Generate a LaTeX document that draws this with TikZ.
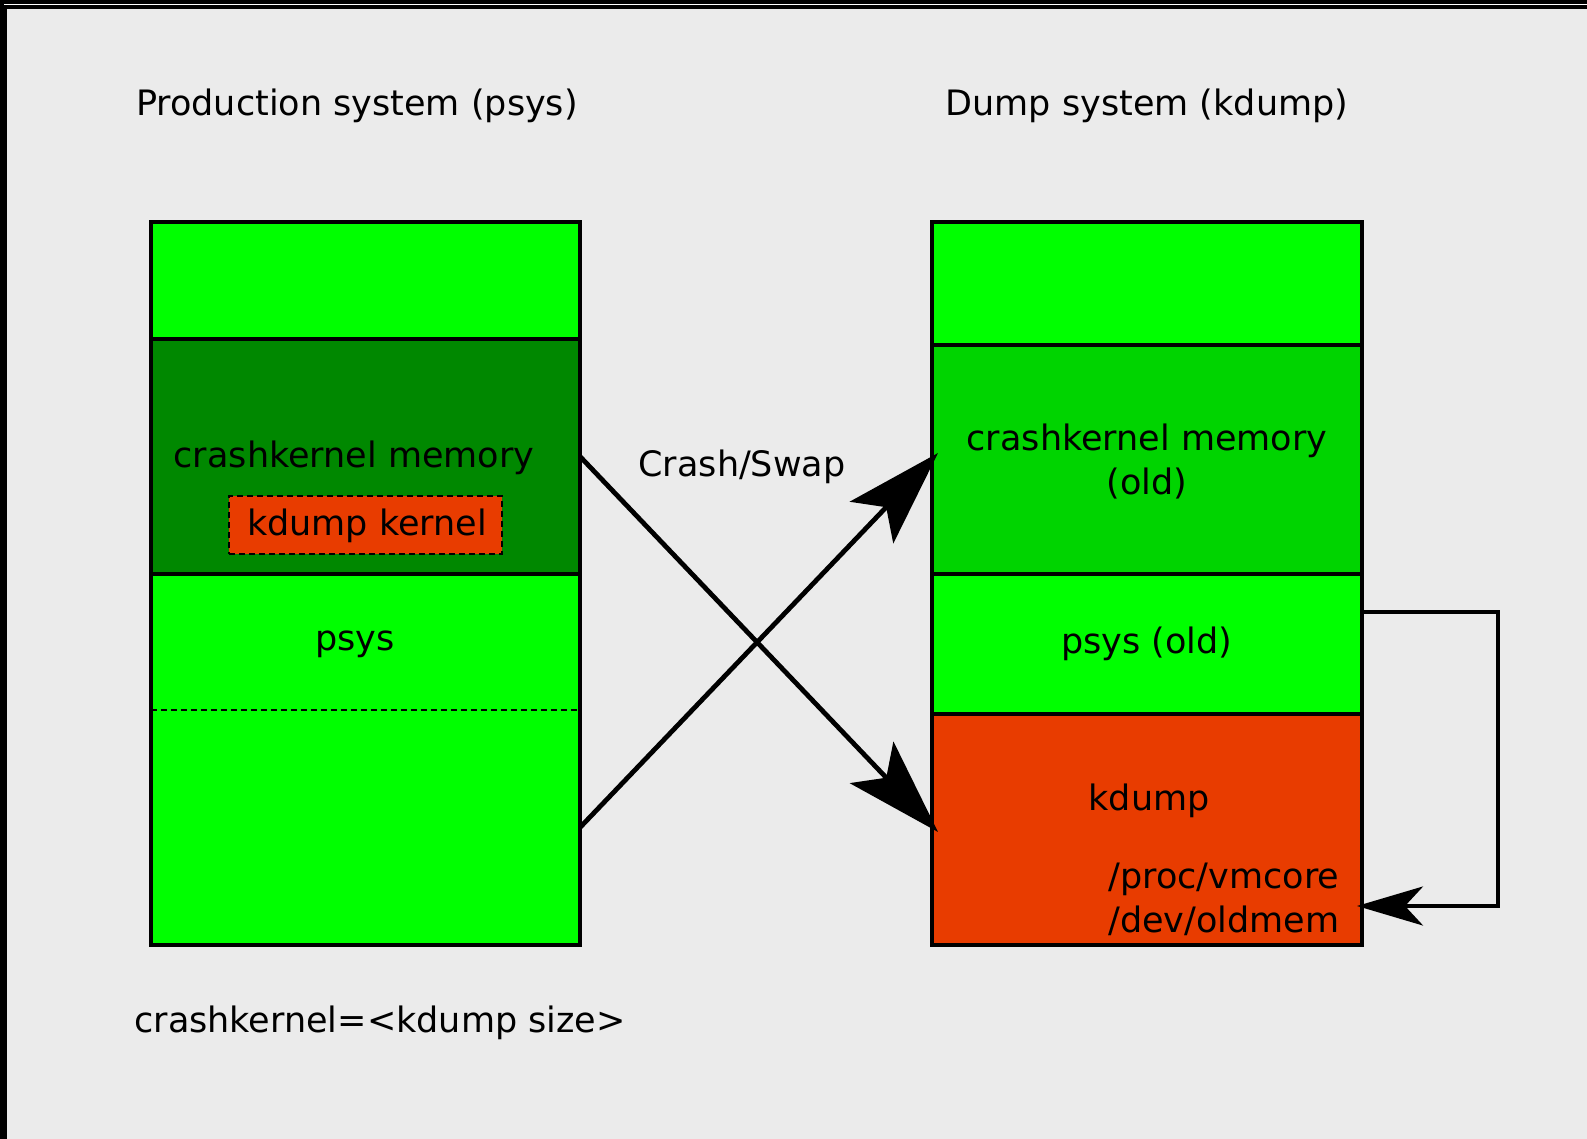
\documentclass[tikz,border=0pt]{standalone}
\usepackage{fontspec}
\setmainfont{DejaVu Sans}
\usetikzlibrary{arrows.meta}
\definecolor{bggray}{HTML}{EBEBEB}
\definecolor{brightgreen}{HTML}{00FF00}
\definecolor{darkgreen}{HTML}{008800}
\definecolor{midgreen}{HTML}{00D400}
\definecolor{kred}{HTML}{E83C00}
\tikzset{
  sect/.style={rectangle, draw=black, line width=2pt, inner sep=0pt, outer sep=0pt, anchor=north west, minimum width=#1},
  sect/.default=214.5pt,
  plain/.style={rectangle, inner sep=0pt, outer sep=0pt, anchor=north west, minimum width=214.5pt},
  lbl/.style={font=\fontsize{17.5}{22}\selectfont, inner sep=0pt, text=black},
  bigarrow/.style={line width=2.4pt, -{Stealth[length=48pt,width=30pt,inset=10.5pt]}},
  smallarrow/.style={line width=1.8pt, -{Stealth[length=33pt,width=19.5pt,inset=9pt]}},
  thindash/.style={line width=0.9pt, dash pattern=on 3pt off 2pt}
}
\begin{document}
\begin{tikzpicture}[x=0.5pt,y=-0.5pt]
\useasboundingbox (0,0) rectangle (1587,1139);
% page background
\fill[black] (0,0) rectangle (1587,1139);
\draw[white, line width=0.5pt] (4,4.5) -- (1587,4.5);
\fill[bggray] (7,9) rectangle (1587,1139);

% titles
\node[lbl] (ttlL) at (357,106) {Production system (psys)};
\node[lbl] (ttlR) at (1147,106) {Dump system (kdump)};

% left column
\node[sect, fill=brightgreen, minimum height=58.5pt] (ltop) at (151,222) {};
\node[sect, fill=darkgreen, minimum height=117.5pt] (lcrash) at (151,339) {};
\node[plain, fill=brightgreen, minimum height=68pt] (lpsys) at (151,574) {};
\node[plain, fill=brightgreen, minimum height=117.5pt] (llow) at (151,710) {};
\draw[line width=2pt] (lpsys.north west) rectangle (llow.south east);
\draw[thindash] (llow.north west) -- ([xshift=1pt]llow.north east);

\node[lbl] (lcrashtxt) at (354,458) {crashkernel memory};
\node[rectangle, draw=black, thindash, fill=kred, minimum width=136.5pt, minimum height=29pt, inner sep=0pt] (kkern) at (365.5,525) {};
\node[lbl] (kkerntxt) at (367,526) {kdump kernel};
\node[lbl] (lpsystxt) at (355,644) {psys};
\node[lbl] (cksize) at (380,1023) {crashkernel=<kdump size>};

% right column
\node[sect=215pt, fill=brightgreen, minimum height=61.5pt] (rtop) at (932,222) {};
\node[sect=215pt, fill=midgreen, minimum height=114.5pt] (rcrash) at (932,345) {};
\node[sect=215pt, fill=brightgreen, minimum height=70pt] (rpsys) at (932,574) {};
\node[sect=215pt, fill=kred, minimum height=115.5pt] (rkdump) at (932,714) {};

\node[lbl, align=center] (rcrashtxt) at (1147,462) {crashkernel memory\\(old)};
\node[lbl] (rpsystxt) at (1147,644) {psys (old)};
\node[lbl] (rkdumptxt) at (1149,801) {kdump};
\node[lbl, align=left, anchor=west] (procs) at (1108,899) {/proc/vmcore\\/dev/oldmem};

% crash/swap arrows
\node[lbl] (crashswap) at (742,467) {Crash/Swap};
\draw[bigarrow] (lcrash.east) -- ([xshift=3pt,yshift=-1.25pt]rkdump.west);
\draw[bigarrow] (llow.east) -- ([xshift=3pt,yshift=3.25pt]rcrash.west);

% bracket arrow
\coordinate (bend) at (1498,906);
\draw[smallarrow] ([yshift=16pt]rpsys.east) -| (bend) -- ([xshift=-2.5pt,yshift=-38.25pt]rkdump.east);
\end{tikzpicture}
\end{document}
